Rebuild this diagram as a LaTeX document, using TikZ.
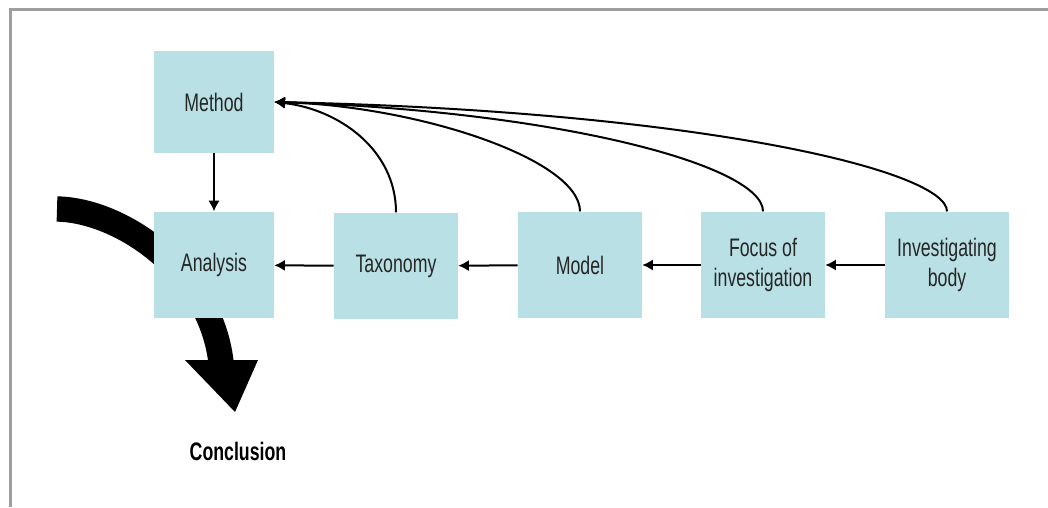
\documentclass[tikz,border=0pt]{standalone}
\usepackage{fontspec}
\setmainfont[FakeStretch=0.7]{Liberation Sans}
\usepackage{tikz}
\usetikzlibrary{arrows.meta}
\definecolor{box-blue}{RGB}{185,224,228}
\definecolor{frame-gray}{gray}{0.62}

\begin{document}
\begin{tikzpicture}[x=0.75pt,y=-0.75pt,
		stagebox/.style={fill=box-blue,text=black!85,minimum width=93pt,minimum height=80pt,inner sep=0pt,align=center,font=\fontsize{19}{22}\selectfont},
		link/.style={line width=1.5pt,-{Latex[length=8pt,width=8.5pt]}}]
			\useasboundingbox (0,0) rectangle (1048,507);
			\draw[frame-gray, line width=2pt] (10.5,507) -- (10.5,9.5) -- (1048,9.5);

			% big curved arrow, behind the boxes
			\draw[black, line width=19pt] (57,209) .. controls (120,210) and (210,270) .. (221,362);
			\fill[black] (185,360) -- (258,360) -- (235,412) -- cycle;

			\node[stagebox, minimum width=90pt, minimum height=76.5pt] (method) at (214,102) {Method};
			\node[stagebox, minimum width=90pt] (analysis) at (214,265) {Analysis};
			\node[stagebox] (taxonomy) at (396,266) {Taxonomy};
			\node[stagebox] (model) at (580,265) {Model};
			\node[stagebox] (focus) at (763,265) {Focus of\\investigation};
			\node[stagebox] (body) at (947,265) {Investigating\\body};
			\node[font=\fontsize{19}{22}\selectfont\bfseries] (conclusion) at (238,451) {Conclusion};

			\draw[link] (method) -- (analysis);
			\draw[link] (taxonomy) -- (analysis);
			\draw[link] (model) -- (taxonomy);
			\draw[link] (focus) -- (model);
			\draw[link] (body) -- (focus);

			\draw[link] (taxonomy.north) .. controls +(0,-63) and +(64,7) .. (method.east);
			\draw[link] (model.north) .. controls +(0,-52) and +(144,4) .. (method.east);
			\draw[link] (focus.north) .. controls +(0,-46) and +(284,9) .. (method.east);
			\draw[link] (body.north) .. controls +(0,-41) and +(424,9) .. (method.east);
		\end{tikzpicture}
\end{document}
